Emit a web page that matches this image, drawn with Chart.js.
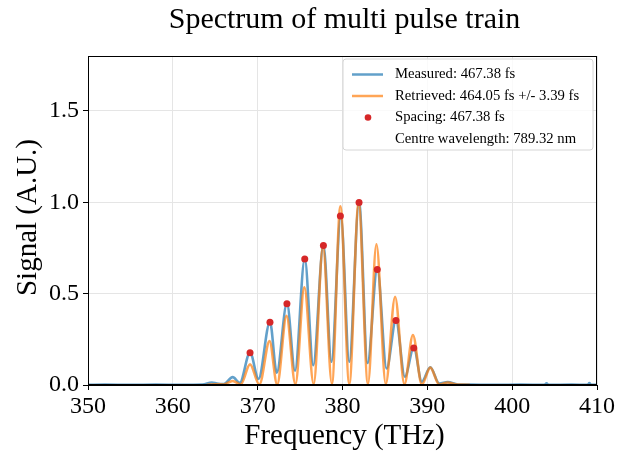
<!DOCTYPE html>
<html>
<head>
<meta charset="utf-8">
<script src="https://cdn.jsdelivr.net/npm/chart.js@4.4.1/dist/chart.umd.min.js"></script>
<style>
  html, body { margin: 0; padding: 0; background: #ffffff; }
  #wrap { width: 626px; height: 452px; }
</style>
</head>
<body>
<div id="wrap"><canvas id="c" width="626" height="452"></canvas></div>
<script>
// ---- Data ----
const measuredFreq = [350, 352, 355, 358, 361, 363.5, 364.6, 365.2, 366.0, 367.05, 367.9, 369.1, 370.1, 371.45, 372.25, 373.45, 374.4, 375.55, 376.55, 377.75, 378.7, 379.8, 380.8, 381.95, 382.95, 384.1, 385.2, 386.3, 387.35, 388.4, 389.35, 390.35, 391.4, 392.4, 393.6, 395, 398, 401, 403.8, 404.05, 404.3, 407, 408.9, 409.1, 409.3, 410];
const measuredSig  = [0.001, 0.002, 0.001, 0.002, 0.001, 0.002, 0.014, 0.008, 0.005, 0.043, 0.012, 0.178, 0.033, 0.345, 0.067, 0.447, 0.078, 0.690, 0.108, 0.765, 0.127, 0.926, 0.127, 1.000, 0.120, 0.635, 0.090, 0.355, 0.045, 0.205, 0.018, 0.097, 0.008, 0.016, 0.003, 0.002, 0.001, 0.002, 0.001, 0.009, 0.001, 0.002, 0.001, 0.010, 0.001, 0.001];

const retrievedFreq = [364.0, 365.0, 366.0, 367.05, 368.0, 369.1, 370.2, 371.4, 372.3, 373.4, 374.45, 375.5, 376.6, 377.7, 378.75, 379.75, 380.8, 381.9, 383.0, 384.0, 385.1, 386.2, 387.3, 388.3, 389.35, 390.35, 391.4, 392.4, 393.5, 395.0];
const retrievedSig  = [0.001, 0.004, 0.003, 0.022, 0.003, 0.113, 0.002, 0.240, 0.003, 0.378, 0.004, 0.534, 0.005, 0.756, 0.006, 0.978, 0.006, 0.995, 0.006, 0.770, 0.005, 0.483, 0.004, 0.273, 0.003, 0.095, 0.003, 0.014, 0.002, 0.001];

const peakFreq = [369.1, 371.45, 373.45, 375.55, 377.75, 379.75, 381.95, 384.1, 386.3, 388.4];
const peakSig  = [0.177, 0.343, 0.444, 0.689, 0.763, 0.925, 0.998, 0.632, 0.353, 0.202];

const xTicks = [350, 360, 370, 380, 390, 400, 410];
const yTicks = [0.0, 0.5, 1.0, 1.5];

const titleText = 'Spectrum of multi pulse train';
const xTitle = 'Frequency (THz)';
const yTitle = 'Signal (A.U.)';
const legendLabels = ['Measured: 467.38 fs', 'Retrieved: 464.05 fs +/- 3.39 fs', 'Spacing: 467.38 fs', 'Centre wavelength: 789.32 nm'];

// ---- Styles ----
const SERIF = '"Liberation Serif", "Times New Roman", serif';
const BLUE = 'rgba(31,119,180,0.7)';
const ORANGE = 'rgba(255,127,14,0.7)';
const RED = '#d62728';

const toPts = (xs, ys) => xs.map((x, i) => ({ x: x, y: ys[i] }));

const decor = {
  id: 'decor',
  beforeDraw(chart) {
    const ctx = chart.ctx;
    ctx.save();
    ctx.fillStyle = '#ffffff';
    ctx.fillRect(0, 0, chart.width, chart.height);
    ctx.restore();
  },
  afterDraw(chart) {
    const ctx = chart.ctx;
    const a = chart.chartArea;
    ctx.save();
    // frame
    ctx.strokeStyle = '#000000';
    ctx.lineWidth = 1;
    ctx.strokeRect(Math.round(a.left) + 0.5, Math.round(a.top) + 0.5, Math.round(a.right - a.left) - 1, Math.round(a.bottom - a.top) - 1);

    // title
    ctx.fillStyle = '#000000';
    ctx.textAlign = 'center';
    ctx.textBaseline = 'alphabetic';
    ctx.font = '30px ' + SERIF;
    ctx.fillText(titleText, (a.left + a.right) / 2 + 2, 28);

    // x title
    ctx.font = '29px ' + SERIF;
    ctx.fillText(xTitle, (a.left + a.right) / 2 + 2, 444);

    // y title
    ctx.save();
    ctx.translate(36, (a.top + a.bottom) / 2 - 3);
    ctx.rotate(-Math.PI / 2);
    ctx.fillText(yTitle, 0, 0);
    ctx.restore();

    // legend box
    const bx = 343, by = 59, bw = 250, bh = 91, r = 3;
    ctx.beginPath();
    ctx.moveTo(bx + r, by);
    ctx.lineTo(bx + bw - r, by);
    ctx.quadraticCurveTo(bx + bw, by, bx + bw, by + r);
    ctx.lineTo(bx + bw, by + bh - r);
    ctx.quadraticCurveTo(bx + bw, by + bh, bx + bw - r, by + bh);
    ctx.lineTo(bx + r, by + bh);
    ctx.quadraticCurveTo(bx, by + bh, bx, by + bh - r);
    ctx.lineTo(bx, by + r);
    ctx.quadraticCurveTo(bx, by, bx + r, by);
    ctx.closePath();
    ctx.fillStyle = 'rgba(255,255,255,0.8)';
    ctx.fill();
    ctx.strokeStyle = '#d6d6d6';
    ctx.lineWidth = 1;
    ctx.stroke();

    const rows = [74.5, 96, 117.5, 139];
    ctx.lineWidth = 2.5;
    ctx.strokeStyle = BLUE;
    ctx.beginPath(); ctx.moveTo(352, rows[0]); ctx.lineTo(383, rows[0]); ctx.stroke();
    ctx.strokeStyle = ORANGE;
    ctx.beginPath(); ctx.moveTo(352, rows[1]); ctx.lineTo(383, rows[1]); ctx.stroke();
    ctx.fillStyle = RED;
    ctx.beginPath(); ctx.arc(368, rows[2], 3.3, 0, Math.PI * 2); ctx.fill();

    ctx.fillStyle = '#000000';
    ctx.font = '14.7px ' + SERIF;
    ctx.textAlign = 'left';
    ctx.textBaseline = 'middle';
    for (let i = 0; i < legendLabels.length; i++) {
      ctx.fillText(legendLabels[i], 395, rows[i]);
    }
    ctx.restore();
  }
};

new Chart(document.getElementById('c'), {
  type: 'line',
  data: {
    datasets: [
      {
        label: 'Spacing',
        type: 'scatter',
        data: toPts(peakFreq, peakSig),
        backgroundColor: RED,
        borderColor: RED,
        pointRadius: 3.5,
        pointBorderWidth: 0,
        showLine: false,
        order: 0
      },
      {
        label: 'Retrieved',
        data: toPts(retrievedFreq, retrievedSig),
        borderColor: ORANGE,
        borderWidth: 2.6,
        pointRadius: 0,
        fill: false,
        cubicInterpolationMode: 'monotone',
        order: 1
      },
      {
        label: 'Measured',
        data: toPts(measuredFreq, measuredSig),
        borderColor: BLUE,
        borderWidth: 2.6,
        pointRadius: 0,
        fill: false,
        cubicInterpolationMode: 'monotone',
        order: 2
      }
    ]
  },
  options: {
    responsive: false,
    animation: false,
    devicePixelRatio: 1,
    layout: { padding: { top: 56, right: 29, left: 0, bottom: 0 } },
    plugins: {
      legend: { display: false },
      title: { display: false },
      tooltip: { enabled: false }
    },
    scales: {
      x: {
        type: 'linear',
        min: 350, max: 410,
        afterBuildTicks: (s) => { s.ticks = xTicks.map(v => ({ value: v })); },
        afterFit: (s) => { s.height = 67; },
        grid: { color: '#e5e5e5', tickColor: '#000000', tickLength: 5, drawTicks: true },
        border: { color: '#000000', width: 1 },
        ticks: { color: '#000000', font: { family: SERIF, size: 24 }, padding: 2, maxRotation: 0, autoSkip: false, callback: (v) => String(v) }
      },
      y: {
        type: 'linear',
        min: 0, max: 1.8,
        afterBuildTicks: (s) => { s.ticks = yTicks.map(v => ({ value: v })); },
        afterFit: (s) => { s.width = 88; },
        grid: { color: '#e5e5e5', tickColor: '#000000', tickLength: 5, drawTicks: true },
        border: { color: '#000000', width: 1 },
        ticks: { color: '#000000', font: { family: SERIF, size: 24 }, padding: 4, callback: (v) => Number(v).toFixed(1) }
      }
    }
  },
  plugins: [decor]
});
</script>
</body>
</html>
